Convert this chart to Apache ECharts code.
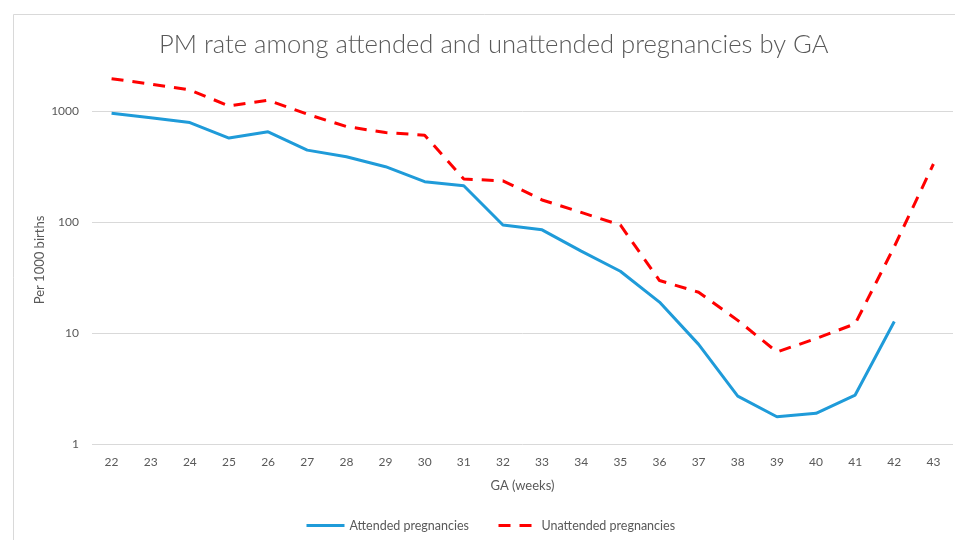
<!DOCTYPE html>
<html>
<head>
<meta charset="utf-8">
<script src="https://cdn.jsdelivr.net/npm/echarts@6/dist/echarts.min.js"></script>
<style>html,body{margin:0;padding:0;background:#fff;}#c{width:955px;height:540px;}</style>
</head>
<body>
<div id="c"></div>
<script>
const categories = ['22','23','24','25','26','27','28','29','30','31','32','33','34','35','36','37','38','39','40','41','42','43'];
const attended = [955, 870, 787, 570, 649, 444, 387, 315, 231, 212, 94, 85, 54.6, 36, 19.0, 7.9, 2.70, 1.76, 1.89, 2.76, 12.7, null];
const unattended = [1954, 1750, 1548, 1111, 1250, 936, 724, 640, 606, 244, 235, 158, 122, 94, 29.7, 23.3, 13.0, 6.75, 8.9, 12.1, 60, 333];
const titleText = 'PM rate among attended and unattended pregnancies by GA';
const yName = 'Per 1000 births';
const xName = 'GA (weeks)';

const chart = echarts.init(document.getElementById('c'), null, {renderer: 'canvas'});
const FONT = 'Lato, "Open Sans", sans-serif';
chart.setOption({
  backgroundColor: '#fff',
  animation: false,
  textStyle: {fontFamily: FONT},
  graphic: [{
    type: 'rect', left: 11, top: 12, z: -10,
    shape: {x: 0, y: 0, width: 960, height: 540},
    style: {fill: 'none', stroke: '#d9d9d9', lineWidth: 1}
  }],
  title: {
    text: titleText, left: 154, top: 27,
    textStyle: {fontFamily: FONT, fontWeight: 300, fontSize: 25.6, color: '#595959'}
  },
  legend: {
    top: 514, left: 300, itemGap: 28, itemWidth: 38, itemHeight: 12, itemSpacing: 3,
    textStyle: {fontFamily: FONT, fontSize: 12.5, color: '#595959'},
    itemStyle: {opacity: 0},
    lineStyle: {width: 3},
    data: ['Attended pregnancies', 'Unattended pregnancies']
  },
  grid: {left: 92, right: 2, top: 0, bottom: 96, containLabel: false},
  xAxis: {
    type: 'category', data: categories, boundaryGap: true,
    name: xName, nameLocation: 'middle', nameGap: 35,
    nameTextStyle: {fontFamily: FONT, fontSize: 13, color: '#595959'},
    axisLine: {show: false}, axisTick: {show: false},
    axisLabel: {fontFamily: FONT, fontSize: 12, color: '#595959', margin: 12}
  },
  yAxis: {
    type: 'log', logBase: 10, min: 1, max: 10000,
    name: yName, nameLocation: 'middle', nameGap: 52, nameRotate: 90, nameMoveOverlap: false,
    nameTextStyle: {fontFamily: FONT, fontSize: 13, color: '#595959', padding: [0, 0, -6, -76]},
    axisLine: {show: false}, axisTick: {show: false},
    axisLabel: {fontFamily: FONT, fontSize: 12, color: '#595959', margin: 13, showMaxLabel: false,
      formatter: function (v) { return String(Math.round(v)); }},
    splitLine: {showMaxLine: false, lineStyle: {color: '#d9d9d9', width: 1}},
    minorSplitLine: {show: false}
  },
  series: [
    {
      name: 'Attended pregnancies', type: 'line', data: attended,
      symbol: 'none', connectNulls: false,
      lineStyle: {color: '#1f9bd9', width: 3}, itemStyle: {color: '#1f9bd9'}
    },
    {
      name: 'Unattended pregnancies', type: 'line', data: unattended,
      symbol: 'none',
      lineStyle: {color: '#ff0000', width: 3, type: [12, 9]}, itemStyle: {color: '#ff0000'}
    }
  ]
});
</script>
</body>
</html>
